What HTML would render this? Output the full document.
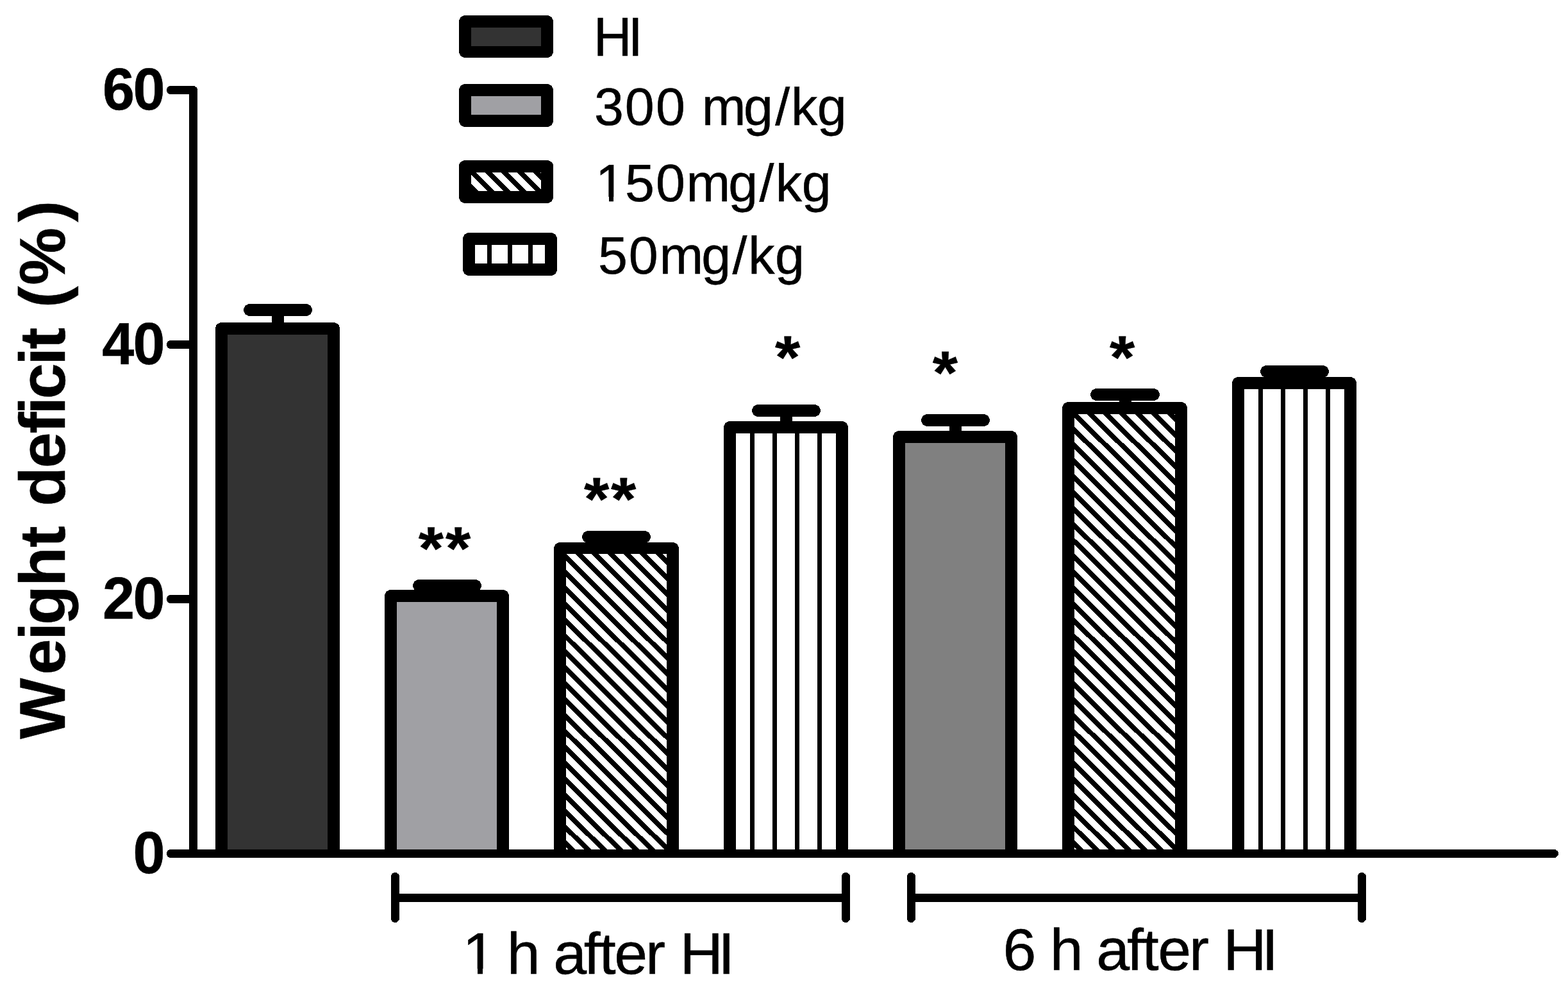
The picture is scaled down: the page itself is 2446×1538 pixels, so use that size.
<!DOCTYPE html>
<html lang="en"><head><meta charset="utf-8"><title>Weight deficit (%)</title>
<style>
html,body{margin:0;padding:0;background:#fff;}
body{width:2446px;height:1538px;overflow:hidden;}
svg{display:block;}
text{font-family:"Liberation Sans",Arial,Helvetica,sans-serif;fill:#000;stroke:#000;stroke-width:0.5px;stroke-linejoin:miter;white-space:pre;text-rendering:geometricPrecision;}
.b{font-weight:bold;}
</style></head><body>
<svg width="2446" height="1538" viewBox="0 0 2446 1538" shape-rendering="crispEdges">
<rect width="2446" height="1538" fill="#fff"/>
<rect x="380" y="474" width="107" height="19" rx="9.5" ry="9.5" fill="#000"/>
<rect x="424" y="483" width="19" height="29" fill="#000"/>
<rect x="355" y="522" width="156" height="809.5" fill="#333333"/>
<path fill="#000" fill-rule="evenodd" d="M336,1331.5 L336,512.5 A9.5,9.5 0 0 1 345.5,503 L520.5,503 A9.5,9.5 0 0 1 530,512.5 L530,1331.5 Z M355,522 L355,1332.5 L511,1332.5 L511,522 Z"/>
<rect x="644" y="904" width="107" height="19" rx="9.5" ry="9.5" fill="#000"/>
<rect x="688" y="913" width="19" height="16" fill="#000"/>
<rect x="619" y="939" width="156" height="392.5" fill="#A0A0A4"/>
<path fill="#000" fill-rule="evenodd" d="M600,1331.5 L600,929.5 A9.5,9.5 0 0 1 609.5,920 L784.5,920 A9.5,9.5 0 0 1 794,929.5 L794,1331.5 Z M619,939 L619,1332.5 L775,1332.5 L775,939 Z"/>
<rect x="908" y="828" width="107" height="19" rx="9.5" ry="9.5" fill="#000"/>
<rect x="952" y="837" width="19" height="18" fill="#000"/>
<rect x="883" y="864" width="157" height="467.5" fill="#fff"/>
<clipPath id="c1"><rect x="883" y="864" width="157" height="467.5"/></clipPath>
<path clip-path="url(#c1)" fill="#000" d="M420.08,862 L431.08,862 L905.7,1333.5 L894.7,1333.5 Z M445.08,862 L456.08,862 L930.7,1333.5 L919.7,1333.5 Z M470.08,862 L481.08,862 L955.7,1333.5 L944.7,1333.5 Z M495.08,862 L506.08,862 L980.7,1333.5 L969.7,1333.5 Z M520.08,862 L531.08,862 L1005.7,1333.5 L994.7,1333.5 Z M545.08,862 L556.08,862 L1030.7,1333.5 L1019.7,1333.5 Z M570.08,862 L581.08,862 L1055.7,1333.5 L1044.7,1333.5 Z M595.08,862 L606.08,862 L1080.7,1333.5 L1069.7,1333.5 Z M620.08,862 L631.08,862 L1105.7,1333.5 L1094.7,1333.5 Z M645.08,862 L656.08,862 L1130.7,1333.5 L1119.7,1333.5 Z M670.08,862 L681.08,862 L1155.7,1333.5 L1144.7,1333.5 Z M695.08,862 L706.08,862 L1180.7,1333.5 L1169.7,1333.5 Z M720.08,862 L731.08,862 L1205.7,1333.5 L1194.7,1333.5 Z M745.08,862 L756.08,862 L1230.7,1333.5 L1219.7,1333.5 Z M770.08,862 L781.08,862 L1255.7,1333.5 L1244.7,1333.5 Z M795.08,862 L806.08,862 L1280.7,1333.5 L1269.7,1333.5 Z M820.08,862 L831.08,862 L1305.7,1333.5 L1294.7,1333.5 Z M845.08,862 L856.08,862 L1330.7,1333.5 L1319.7,1333.5 Z M870.08,862 L881.08,862 L1355.7,1333.5 L1344.7,1333.5 Z M895.08,862 L906.08,862 L1380.7,1333.5 L1369.7,1333.5 Z M920.08,862 L931.08,862 L1405.7,1333.5 L1394.7,1333.5 Z M945.08,862 L956.08,862 L1430.7,1333.5 L1419.7,1333.5 Z M970.08,862 L981.08,862 L1455.7,1333.5 L1444.7,1333.5 Z M995.08,862 L1006.08,862 L1480.7,1333.5 L1469.7,1333.5 Z M1020.08,862 L1031.08,862 L1505.7,1333.5 L1494.7,1333.5 Z"/>
<path fill="#000" fill-rule="evenodd" d="M864,1331.5 L864,855.5 A9.5,9.5 0 0 1 873.5,846 L1049.5,846 A9.5,9.5 0 0 1 1059,855.5 L1059,1331.5 Z M883,864 L883,1332.5 L1040,1332.5 L1040,864 Z"/>
<rect x="1173" y="631" width="107" height="19" rx="9.5" ry="9.5" fill="#000"/>
<rect x="1217" y="640" width="19" height="26" fill="#000"/>
<rect x="1148" y="676" width="156" height="655.5" fill="#fff"/>
<path fill="#000" d="M1170,676 h7 V1331.5 h-7 Z M1205,676 h7 V1331.5 h-7 Z M1240,676 h7 V1331.5 h-7 Z M1275,676 h7 V1331.5 h-7 Z"/>
<path fill="#000" fill-rule="evenodd" d="M1129,1331.5 L1129,666.5 A9.5,9.5 0 0 1 1138.5,657 L1313.5,657 A9.5,9.5 0 0 1 1323,666.5 L1323,1331.5 Z M1148,676 L1148,1332.5 L1304,1332.5 L1304,676 Z"/>
<rect x="1437" y="646" width="107" height="19" rx="9.5" ry="9.5" fill="#000"/>
<rect x="1481" y="655" width="19" height="26" fill="#000"/>
<rect x="1412" y="691" width="156" height="640.5" fill="#808080"/>
<path fill="#000" fill-rule="evenodd" d="M1393,1331.5 L1393,681.5 A9.5,9.5 0 0 1 1402.5,672 L1577.5,672 A9.5,9.5 0 0 1 1587,681.5 L1587,1331.5 Z M1412,691 L1412,1332.5 L1568,1332.5 L1568,691 Z"/>
<rect x="1701" y="606" width="108" height="19" rx="9.5" ry="9.5" fill="#000"/>
<rect x="1746" y="615" width="19" height="21" fill="#000"/>
<rect x="1676" y="646" width="157" height="685.5" fill="#fff"/>
<clipPath id="c2"><rect x="1676" y="646" width="157" height="685.5"/></clipPath>
<path clip-path="url(#c2)" fill="#000" d="M993.69,644 L1004.69,644 L1698.75,1333.5 L1687.75,1333.5 Z M1018.69,644 L1029.69,644 L1723.75,1333.5 L1712.75,1333.5 Z M1043.69,644 L1054.69,644 L1748.75,1333.5 L1737.75,1333.5 Z M1068.69,644 L1079.69,644 L1773.75,1333.5 L1762.75,1333.5 Z M1093.69,644 L1104.69,644 L1798.75,1333.5 L1787.75,1333.5 Z M1118.69,644 L1129.69,644 L1823.75,1333.5 L1812.75,1333.5 Z M1143.69,644 L1154.69,644 L1848.75,1333.5 L1837.75,1333.5 Z M1168.69,644 L1179.69,644 L1873.75,1333.5 L1862.75,1333.5 Z M1193.69,644 L1204.69,644 L1898.75,1333.5 L1887.75,1333.5 Z M1218.69,644 L1229.69,644 L1923.75,1333.5 L1912.75,1333.5 Z M1243.69,644 L1254.69,644 L1948.75,1333.5 L1937.75,1333.5 Z M1268.69,644 L1279.69,644 L1973.75,1333.5 L1962.75,1333.5 Z M1293.69,644 L1304.69,644 L1998.75,1333.5 L1987.75,1333.5 Z M1318.69,644 L1329.69,644 L2023.75,1333.5 L2012.75,1333.5 Z M1343.69,644 L1354.69,644 L2048.75,1333.5 L2037.75,1333.5 Z M1368.69,644 L1379.69,644 L2073.75,1333.5 L2062.75,1333.5 Z M1393.69,644 L1404.69,644 L2098.75,1333.5 L2087.75,1333.5 Z M1418.69,644 L1429.69,644 L2123.75,1333.5 L2112.75,1333.5 Z M1443.69,644 L1454.69,644 L2148.75,1333.5 L2137.75,1333.5 Z M1468.69,644 L1479.69,644 L2173.75,1333.5 L2162.75,1333.5 Z M1493.69,644 L1504.69,644 L2198.75,1333.5 L2187.75,1333.5 Z M1518.69,644 L1529.69,644 L2223.75,1333.5 L2212.75,1333.5 Z M1543.69,644 L1554.69,644 L2248.75,1333.5 L2237.75,1333.5 Z M1568.69,644 L1579.69,644 L2273.75,1333.5 L2262.75,1333.5 Z M1593.69,644 L1604.69,644 L2298.75,1333.5 L2287.75,1333.5 Z M1618.69,644 L1629.69,644 L2323.75,1333.5 L2312.75,1333.5 Z M1643.69,644 L1654.69,644 L2348.75,1333.5 L2337.75,1333.5 Z M1668.69,644 L1679.69,644 L2373.75,1333.5 L2362.75,1333.5 Z M1693.69,644 L1704.69,644 L2398.75,1333.5 L2387.75,1333.5 Z M1718.69,644 L1729.69,644 L2423.75,1333.5 L2412.75,1333.5 Z M1743.69,644 L1754.69,644 L2448.75,1333.5 L2437.75,1333.5 Z M1768.69,644 L1779.69,644 L2473.75,1333.5 L2462.75,1333.5 Z M1793.69,644 L1804.69,644 L2498.75,1333.5 L2487.75,1333.5 Z M1818.69,644 L1829.69,644 L2523.75,1333.5 L2512.75,1333.5 Z"/>
<path fill="#000" fill-rule="evenodd" d="M1657,1331.5 L1657,636.5 A9.5,9.5 0 0 1 1666.5,627 L1842.5,627 A9.5,9.5 0 0 1 1852,636.5 L1852,1331.5 Z M1676,646 L1676,1332.5 L1833,1332.5 L1833,646 Z"/>
<rect x="1966" y="570" width="107" height="19" rx="9.5" ry="9.5" fill="#000"/>
<rect x="2010" y="579" width="19" height="18" fill="#000"/>
<rect x="1941" y="607" width="156" height="724.5" fill="#fff"/>
<path fill="#000" d="M1963,607 h7 V1331.5 h-7 Z M1998,607 h7 V1331.5 h-7 Z M2033,607 h7 V1331.5 h-7 Z M2068,607 h7 V1331.5 h-7 Z"/>
<path fill="#000" fill-rule="evenodd" d="M1922,1331.5 L1922,597.5 A9.5,9.5 0 0 1 1931.5,588 L2106.5,588 A9.5,9.5 0 0 1 2116,597.5 L2116,1331.5 Z M1941,607 L1941,1332.5 L2097,1332.5 L2097,607 Z"/>
<path d="M266.5,140.5 L301.5,140.5 L301.5,1331.5" fill="none" stroke="#000" stroke-width="13" stroke-linecap="round" stroke-linejoin="round"/>
<path d="M266.5,537.5 L301.5,537.5 M266.5,934.5 L301.5,934.5 M266.5,1331.5 L2424.5,1331.5" fill="none" stroke="#000" stroke-width="13" stroke-linecap="round"/>
<path d="M616.5,1367.5 V1432.5 M1319.5,1367.5 V1432.5 M616.5,1400.5 H1319.5" fill="none" stroke="#000" stroke-width="13" stroke-linecap="round"/>
<path d="M1421.5,1367.5 V1432.5 M2124.5,1367.5 V1432.5 M1421.5,1400.5 H2124.5" fill="none" stroke="#000" stroke-width="13" stroke-linecap="round"/>
<rect x="735" y="43" width="109" height="29" fill="#333333"/>
<path fill="#000" fill-rule="evenodd" d="M716,33.5 A9.5,9.5 0 0 1 725.5,24 L853.5,24 A9.5,9.5 0 0 1 863,33.5 L863,80.5 A9.5,9.5 0 0 1 853.5,90 L725.5,90 A9.5,9.5 0 0 1 716,80.5 Z M735,43 L735,72 L844,72 L844,43 Z"/>
<rect x="735" y="150" width="109" height="29" fill="#A0A0A4"/>
<path fill="#000" fill-rule="evenodd" d="M716,140.5 A9.5,9.5 0 0 1 725.5,131 L853.5,131 A9.5,9.5 0 0 1 863,140.5 L863,188.5 A9.5,9.5 0 0 1 853.5,198 L725.5,198 A9.5,9.5 0 0 1 716,188.5 Z M735,150 L735,179 L844,179 L844,150 Z"/>
<rect x="735" y="269" width="109" height="29" fill="#fff"/>
<clipPath id="c3"><rect x="735" y="269" width="109" height="29"/></clipPath>
<path clip-path="url(#c3)" fill="#000" d="M704.75,267 L715.75,267 L748.96,300 L737.96,300 Z M729.75,267 L740.75,267 L773.96,300 L762.96,300 Z M754.75,267 L765.75,267 L798.96,300 L787.96,300 Z M779.75,267 L790.75,267 L823.96,300 L812.96,300 Z M804.75,267 L815.75,267 L848.96,300 L837.96,300 Z M829.75,267 L840.75,267 L873.96,300 L862.96,300 Z"/>
<path fill="#000" fill-rule="evenodd" d="M716,259.5 A9.5,9.5 0 0 1 725.5,250 L853.5,250 A9.5,9.5 0 0 1 863,259.5 L863,307.5 A9.5,9.5 0 0 1 853.5,317 L725.5,317 A9.5,9.5 0 0 1 716,307.5 Z M735,269 L735,298 L844,298 L844,269 Z"/>
<rect x="741" y="382" width="109" height="29" fill="#fff"/>
<path fill="#000" d="M760,382 h7 V411 h-7 Z M792,382 h7 V411 h-7 Z M824,382 h7 V411 h-7 Z"/>
<path fill="#000" fill-rule="evenodd" d="M722,372.5 A9.5,9.5 0 0 1 731.5,363 L859.5,363 A9.5,9.5 0 0 1 869,372.5 L869,420.5 A9.5,9.5 0 0 1 859.5,430 L731.5,430 A9.5,9.5 0 0 1 722,420.5 Z M741,382 L741,411 L850,411 L850,382 Z"/>
<text transform="translate(0,86.75) scale(1,1.04)" x="926.08 979.84" y="0" font-size="82.5">HI</text>
<text x="927.01 974.63 1022.93 1068.81 1094.77 1160.09 1209.25 1233.89 1274.69" y="194.75" font-size="82.5">300 mg/kg</text>
<text x="928.96 975.05 1023.03 1070.57 1136.19 1184.45 1209.79 1250.79" y="313.75" font-size="82.5">150mg/kg</text>
<path fill="#fff" d="M933.75,306.59 H949.71 V315.25 H933.75 Z M957,306.59 H972.32 V315.25 H957 Z"/>
<text x="932.95 980.83 1028.47 1094.19 1142.45 1167.29 1208.99" y="426.75" font-size="82.5">50mg/kg</text>
<text transform="translate(0,1518.75) scale(1.02,1)" x="707.34 758.22 775.37 826.26 846.3 892.99 916.36 939.44 987.37 1017.85 1039.6 1098.27" y="0" font-size="91.5">1 h after HI</text>
<path fill="#fff" d="M727.09,1510.91 H744.95 V1520.25 H727.09 Z M753.2,1510.91 H770.33 V1520.25 H753.2 Z"/>
<text transform="translate(0,1512.75) scale(1.02,1)" x="1533.74 1584.62 1605.71 1656.6 1676.64 1723.48 1746.76 1770.87 1818.72 1849.19 1870.88 1929.55" y="0" font-size="91.5">6 h after HI</text>
<text class="b" transform="translate(0,170.65) scale(1,1.03)" x="159.9 207.55" y="0" font-size="90">60</text>
<text class="b" transform="translate(0,567.65) scale(1,1.03)" x="159.29 207.55" y="0" font-size="90">40</text>
<text class="b" transform="translate(0,964.65) scale(1,1.03)" x="160.08 207.55" y="0" font-size="90">20</text>
<text class="b" transform="translate(0,1361.65) scale(1,1.03)" x="207.55" y="0" font-size="90">0</text>
<text class="b" transform="translate(100.75,0) rotate(-90) scale(1,1)" x="-1152.83 -1052.43 -998.69 -974.68 -914.76 -854 -820.43 -789.74 -730.29 -676.36 -646.64 -622.61 -569.74 -544.58 -511.01 -479.95 -444.86 -346.45" y="0" font-size="100.8">Weight deficit (%)</text>
<text class="b" transform="translate(0,887.78) scale(1,0.94)" x="652.85 695.05" y="0" font-size="101">**</text>
<text class="b" transform="translate(0,810.78) scale(1,0.94)" x="911.05 953.05" y="0" font-size="101">**</text>
<text class="b" transform="translate(0,589.68) scale(1,0.94)" x="1209.02" y="0" font-size="101">*</text>
<text class="b" transform="translate(0,613.78) scale(1,0.94)" x="1454.85" y="0" font-size="101">*</text>
<text class="b" transform="translate(0,589.68) scale(1,0.94)" x="1730.95" y="0" font-size="101">*</text>
</svg>
</body></html>
